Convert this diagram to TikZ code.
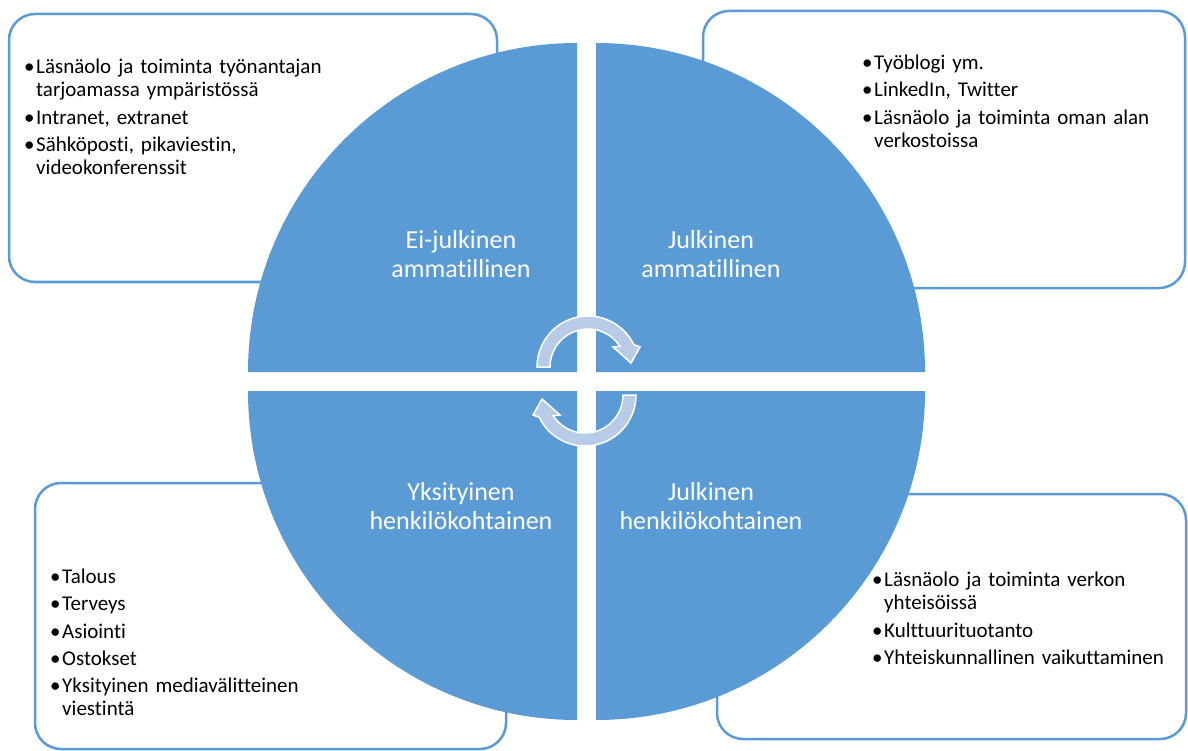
\documentclass[tikz,border=0pt]{standalone}
\usepackage{fontspec}
\setmainfont{Carlito}[Ligatures=CommonOff]
\definecolor{quadblue}{RGB}{91,155,213}
\definecolor{arrowblue}{RGB}{184,203,231}
\newcommand{\bul}[1]{\noindent\hangindent=12pt\hangafter=1\makebox[12pt][l]{\textbullet}#1\par}
\tikzset{
  pics/cyclearrow/.style={code={
    \draw[arrowshape] (180:51) arc[start angle=180,end angle=334,radius=51]
      -- (52,-20) -- (43,-4) -- (25,-20) -- (327:38)
      arc[start angle=327,end angle=180,radius=38] -- cycle;}}
}

\begin{document}
\begin{tikzpicture}[x=1pt,y=-1pt,
  infobox/.style={draw=quadblue,line width=2.5pt,fill=white,rounded corners=26pt},
  quarter/.style={fill=quadblue},
  arrowshape/.style={fill=arrowblue,draw=white,line width=1.5pt},
  quadlabel/.style={text=white,font=\fontsize{26}{29}\selectfont,text width=300pt,align=center,anchor=base,inner sep=0pt},
  listitem/.style={font=\fontsize{21}{23}\selectfont,text width=420pt,align=left,anchor=base west,inner sep=0pt}]
\useasboundingbox (0,0) rectangle (1188,751);

% boxes behind the circle
\draw[infobox] (9,14) rectangle (497,282);
\draw[infobox] (703,11) rectangle (1185,288);
\draw[infobox] (35,483) rectangle (506,749);
\draw[infobox] (717,494) rectangle (1186,739);

% four quarters
\fill[quarter] (577,372) -- (248,372) arc[start angle=180,end angle=270,radius=329] -- cycle;
\fill[quarter] (596,372) -- (596,43) arc[start angle=270,end angle=360,radius=329] -- cycle;
\fill[quarter] (596,391) -- (925,391) arc[start angle=0,end angle=90,radius=329] -- cycle;
\fill[quarter] (577,391) -- (577,720) arc[start angle=90,end angle=180,radius=329] -- cycle;

% cycle arrows
\pic (toparrow) at (588,367) {cyclearrow};
\pic[rotate=180] (botarrow) at (585,395) {cyclearrow};

% quarter labels
\node[quadlabel] (eiam) at (461,249) {Ei-julkinen\\ammatillinen};
\node[quadlabel] (juam) at (711,249) {Julkinen\\ammatillinen};
\node[quadlabel] (yhen) at (461,500) {Yksityinen\\henkilökohtainen};
\node[quadlabel] (juhen) at (711,500) {Julkinen\\henkilökohtainen};

% bullet lists
\foreach \y/\txt [count=\i] in {74/{Läsnäolo ja toiminta työnantajan\newline tarjoamassa ympäristössä},
    125/{Intranet, extranet}, 152/{Sähköposti, pikaviestin,\newline videokonferenssit}}
  \node[listitem] (eilist\i) at (24,\y) {\bul{\txt}};
\foreach \y/\txt [count=\i] in {70/{Työblogi ym.}, 97/{LinkedIn, Twitter},
    125/{Läsnäolo ja toiminta oman alan\newline verkostoissa}}
  \node[listitem] (julist\i) at (862,\y) {\bul{\txt}};
\foreach \y/\txt [count=\i] in {583/Talous, 610/Terveys, 638/Asiointi, 665/Ostokset,
    692/{Yksityinen mediavälitteinen\newline viestintä}}
  \node[listitem] (yhlist\i) at (50,\y) {\bul{\txt}};
\foreach \y/\txt [count=\i] in {586/{Läsnäolo ja toiminta verkon\newline yhteisöissä},
    637/Kulttuurituotanto, 664/{Yhteiskunnallinen vaikuttaminen}}
  \node[listitem] (juhlist\i) at (872,\y) {\bul{\txt}};
\end{tikzpicture}
\end{document}
